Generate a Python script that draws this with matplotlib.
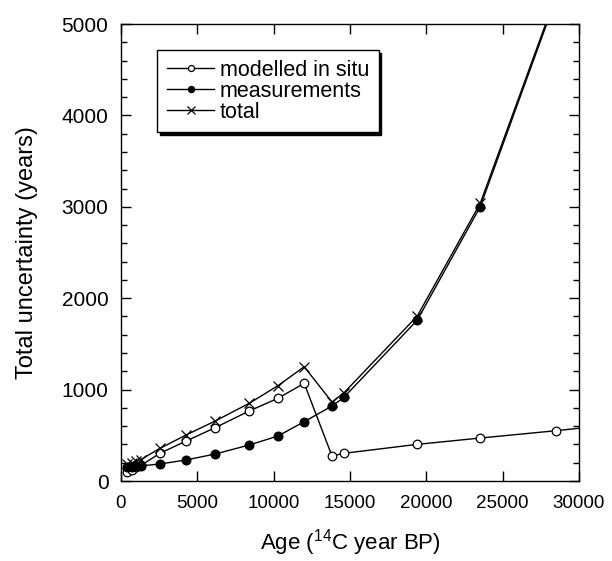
import matplotlib
matplotlib.use('Agg')
import matplotlib.pyplot as plt
from matplotlib.ticker import MultipleLocator

plt.rcParams['font.family'] = ['Liberation Sans', 'DejaVu Sans']
plt.rcParams['mathtext.fontset'] = 'custom'
plt.rcParams['mathtext.rm'] = 'Liberation Sans'
plt.rcParams['mathtext.it'] = 'Liberation Sans:italic'

# Ages (14C year BP) of the sampled depths
age = [400, 700, 1000, 1300, 2550, 4260, 6160, 8400, 10280, 12000,
       13820, 14600, 19410, 23530, 28470, 33000]

# Uncertainty components (years)
modelled = [100, 125, 150, 170, 303, 437, 583, 766, 905, 1069,
            273, 303, 401, 470, 550, 630]
measurements = [150, 152, 160, 165, 186, 230, 295, 394, 492, 649,
                820, 915, 1761, 3001, 5270, 7800]
total = [185, 198, 220, 235, 357, 503, 656, 850, 1043, 1250,
         864, 964, 1806, 3038, 5300, 7830]

fig = plt.figure(figsize=(6.12, 5.61), dpi=100)
ax = fig.add_axes([0.1977, 0.1426, 0.7484, 0.8146])

ax.plot(age, modelled, color='black', lw=1.0, marker='o', ms=6.2,
        mfc='white', mec='black', mew=0.9, label='modelled in situ')
ax.plot(age, measurements, color='black', lw=1.0, marker='o', ms=6.2,
        mfc='black', mec='black', label='measurements')
ax.plot(age, total, color='black', lw=1.0, marker='x', ms=7.5,
        mew=0.9, label='total')

ax.set_xlim(0, 30000)
ax.set_ylim(0, 5000)
ax.xaxis.set_major_locator(MultipleLocator(5000))
ax.yaxis.set_major_locator(MultipleLocator(1000))
ax.yaxis.set_minor_locator(MultipleLocator(200))
ax.tick_params(which='both', direction='in', top=True, right=True, width=1.0)
ax.tick_params(which='major', length=7)
ax.tick_params(which='minor', length=4)
ax.tick_params(axis='x', labelsize=13.5, pad=10)
ax.tick_params(axis='y', labelsize=15, pad=9)
for s in ax.spines.values():
    s.set_linewidth(1.0)

ax.set_xlabel(r'Age ($^{14}$C year BP)', fontsize=16, labelpad=11)
ax.set_ylabel('Total uncertainty (years)', fontsize=17, labelpad=17)

leg = ax.legend(loc='upper left', bbox_to_anchor=(0.079, 0.943),
                fontsize=15.5, frameon=True, fancybox=False,
                shadow={'color': 'black', 'alpha': 1.0},
                handlelength=2.2, handletextpad=0.25, labelspacing=0.0,
                borderpad=0.45, borderaxespad=0.0, markerscale=0.7)
leg.get_frame().set_edgecolor('black')
leg.get_frame().set_linewidth(1.0)

fig.savefig('out.png', dpi=100)
